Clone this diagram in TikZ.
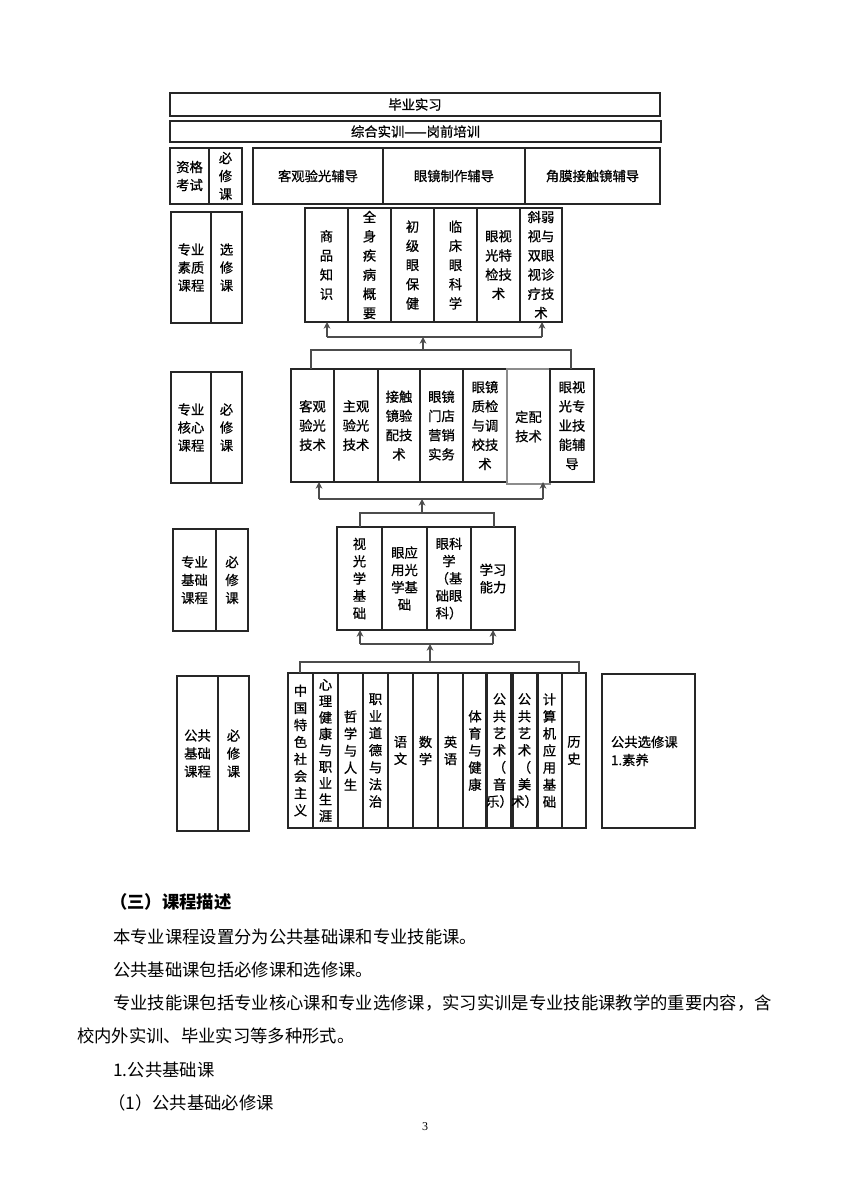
\documentclass[tikz,border=0pt]{standalone}
\usepackage{fontspec}
\setmainfont{Noto Sans CJK SC}
\newfontfamily\diafont[FakeBold=0.8]{Noto Sans CJK SC}
\newfontfamily\serifnum{Liberation Serif}
\usetikzlibrary{arrows.meta}
\tikzset{
  box/.style={draw=black!85, line width=1.4pt, inner sep=0pt, outer sep=0pt,
    align=center, font=\diafont\fontsize{10}{14.2}\selectfont},
  midrow/.style={font=\diafont\fontsize{10}{14.4}\selectfont},
  fndrow/.style={font=\diafont\fontsize{10}{13}\selectfont},
  botrow/.style={font=\diafont\fontsize{10}{12.8}\selectfont},
  lblbox/.style={font=\diafont\fontsize{10}{13.5}\selectfont},
  link/.style={draw=black!70, line width=1.1pt},
  up/.style={link, -{Stealth[length=5pt,width=5pt]}},
  txt/.style={anchor=west, inner sep=0pt, font=\fontsize{13}{15}\selectfont},
}
% \bx[options]{name}{x1}{y1}{x2}{y2}{text}
\newcommand\bx[7][]{\node[box,#1,minimum width={(#5-#3)*0.75pt},minimum height={(#6-#4)*0.75pt}] (#2) at ({(#3+#5)/2},{(#4+#6)/2}) {#7};}
\begin{document}
\begin{tikzpicture}[x=0.75pt,y=-0.75pt]
\useasboundingbox (0,0) rectangle (850,1200);

% top rows
\bx{grad}{170}{93}{660}{116}{毕业实习}
\bx{train}{170}{121}{661}{142}{综合实训——岗前培训}
\bx[lblbox]{zgks}{170}{148}{209}{204}{资格\\考试}
\bx[lblbox]{zgbx}{209}{148}{242}{204}{必\\修\\课}
\bx{fd1}{253}{148}{383}{204}{客观验光辅导}
\bx{fd2}{383}{148}{525}{204}{眼镜制作辅导}
\bx{fd3}{525}{148}{660}{204}{角膜接触镜辅导}

% professional quality (elective)
\bx[lblbox]{zysz}{171}{212}{211}{323}{专业\\素质\\课程}
\bx[lblbox]{zyxx}{211}{212}{242}{323}{选\\修\\课}
\bx[midrow]{e1}{305}{208}{348}{322}{商\\品\\知\\识}
\bx[midrow]{e2}{348}{208}{391}{322}{全\\身\\疾\\病\\概\\要}
\bx[midrow]{e3}{391}{208}{434}{322}{初\\级\\眼\\保\\健}
\bx[midrow]{e4}{434}{208}{477}{322}{临\\床\\眼\\科\\学}
\bx[midrow]{e5}{477}{208}{520}{322}{眼视\\光特\\检技\\术}
\bx[midrow]{e6}{520}{208}{562}{322}{斜弱\\视与\\双眼\\视诊\\疗技\\术}

% core
\bx[lblbox]{zyhx}{171}{372}{211}{483}{专业\\核心\\课程}
\bx[lblbox]{hxbx}{211}{372}{242}{483}{必\\修\\课}
\bx[midrow]{c1}{291}{369}{334}{482}{客观\\验光\\技术}
\bx[midrow]{c2}{334}{369}{378}{482}{主观\\验光\\技术}
\bx[midrow]{c3}{378}{369}{420}{482}{接触\\镜验\\配技\\术}
\bx[midrow]{c4}{420}{369}{463}{482}{眼镜\\门店\\营销\\实务}
\bx[midrow]{c5}{463}{369}{507}{482}{眼镜\\质检\\与调\\校技\\术}
\bx[midrow,draw=black!45,line width=1pt]{c6}{507}{369}{550}{484}{定配\\技术}
\bx[midrow]{c7}{550}{369}{594}{482}{眼视\\光专\\业技\\能辅\\导}

% foundation
\bx[lblbox]{zyjc}{173}{529}{216}{631}{专业\\基础\\课程}
\bx[lblbox]{jcbx}{216}{529}{248}{631}{必\\修\\课}
\bx[fndrow]{f1}{337}{527}{382}{630}{视\\光\\学\\基\\础}
\bx[fndrow]{f2}{382}{527}{427}{630}{眼应\\用光\\学基\\础}
\bx[fndrow]{f3}{427}{527}{471}{630}{眼科\\学\\（基\\础眼\\科）}
\bx[fndrow]{f4}{471}{527}{515}{630}{学习\\能力}

% public basic
\bx[lblbox]{ggjc}{177}{676}{218}{831}{公共\\基础\\课程}
\bx[lblbox]{ggbx}{218}{676}{249}{831}{必\\修\\课}
\bx[botrow]{b1}{288}{673}{313}{828}{中\\国\\特\\色\\社\\会\\主\\义}
\bx[font=\diafont\fontsize{10}{12.3}\selectfont]{b2}{313}{673}{338}{828}{心\\理\\健\\康\\与\\职\\业\\生\\涯}
\bx[botrow]{b3}{338}{673}{363}{828}{哲\\学\\与\\人\\生}
\bx[botrow]{b4}{363}{673}{388}{828}{职\\业\\道\\德\\与\\法\\治}
\bx[botrow]{b5}{388}{673}{413}{828}{语\\文}
\bx[botrow]{b6}{413}{673}{438}{828}{数\\学}
\bx[botrow]{b7}{438}{673}{463}{828}{英\\语}
\bx[botrow]{b8}{463}{673}{487}{828}{体\\育\\与\\健\\康}
\bx[botrow]{b9}{487}{673}{512}{828}{公\\共\\艺\\术\\（\\音\\乐）}
\bx[botrow]{b10}{512}{673}{537}{828}{公\\共\\艺\\术\\（\\美\\术）}
\bx[botrow]{b11}{537}{673}{562}{828}{计\\算\\机\\应\\用\\基\\础}
\bx[botrow]{b12}{562}{673}{586}{828}{历\\史}
\bx[align=left,text width={75*0.75pt},font=\diafont\fontsize{10}{13.5}\selectfont]{ggxx}{602}{674}{695}{828}{公共选修课\\1.素养}

% connectors: electives <- core
\coordinate (eL) at (327,337);
\coordinate (eR) at (542,337);
\draw[link] (eL) -- (eR);
\draw[up] (eL) -- (eL |- e1.south);
\draw[up] (eR) -- (eR |- e6.south);
\coordinate (cbL) at (311,350);
\coordinate (cbR) at (571,350);
\coordinate (cbC) at (423,350);
\draw[link] (cbL |- c1.north) -- (cbL) -- (cbR) -- (cbR |- c7.north);
\draw[up] (cbC) -- (cbC |- eL);

% core <- foundation
\coordinate (cL) at (319,499);
\coordinate (cR) at (543,499);
\draw[link] (cL) -- (cR);
\draw[up] (cL) -- (cL |- c1.south);
\draw[up] (cR) -- (cR |- c7.south);
\coordinate (fbL) at (360,513);
\coordinate (fbR) at (494,513);
\coordinate (fbC) at (422,513);
\draw[link] (fbL |- f1.north) -- (fbL) -- (fbR) -- (fbR |- f4.north);
\draw[up] (fbC) -- (fbC |- cL);

% foundation <- public basic
\coordinate (fL) at (360,644);
\coordinate (fR) at (493,644);
\draw[link] (fL) -- (fR);
\draw[up] (fL) -- (fL |- f1.south);
\draw[up] (fR) -- (fR |- f4.south);
\coordinate (bbL) at (300,662);
\coordinate (bbR) at (579,662);
\coordinate (bbC) at (430,662);
\draw[link] (bbL |- b1.north) -- (bbL) -- (bbR) -- (bbR |- b12.north);
\draw[up] (bbC) -- (bbC |- fL);

% body text
\node[txt] (h) at (110,902) {\bfseries （三）课程描述};
\node[txt] (p1) at (113,937) {本专业课程设置分为公共基础课和专业技能课。};
\node[txt] (p2) at (113,970) {公共基础课包括必修课和选修课。};
\node[txt] (p3) at (113,1003) {专业技能课包括专业核心课和专业选修课，实习实训是专业技能课教学的重要内容，含};
\node[txt] (p4) at (77,1036) {校内外实训、毕业实习等多种形式。};
\node[txt] (p5) at (113,1070) {1.公共基础课};
\node[txt] (p6) at (108,1103) {（1）公共基础必修课};
\node[font=\serifnum\fontsize{9}{10}\selectfont, inner sep=0pt] (pg) at (425,1127) {3};
\end{tikzpicture}
\end{document}
